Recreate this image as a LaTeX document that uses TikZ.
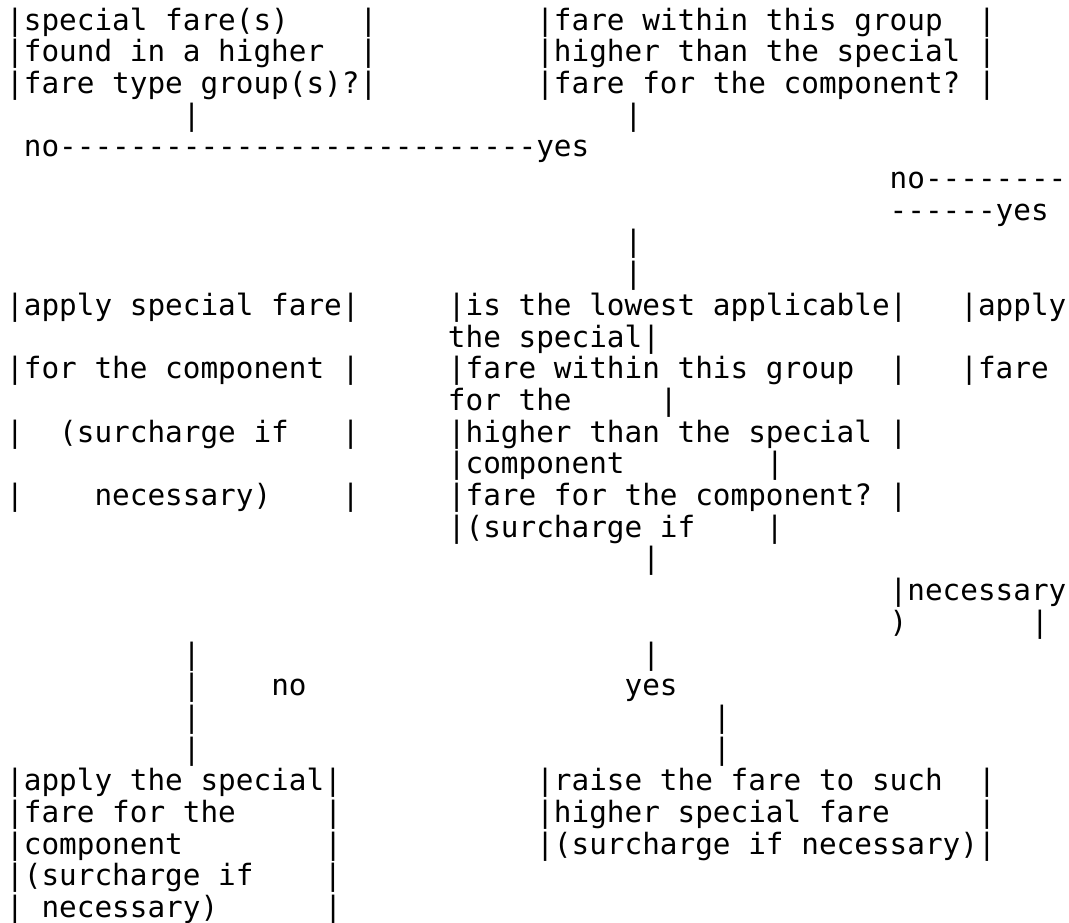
\documentclass[tikz,border=0pt]{standalone}
\usepackage{fontspec}
\setmonofont{DejaVu Sans Mono}
\tikzset{txt/.style={anchor=base west, inner sep=0pt, outer sep=0pt, text=black,
  font=\ttfamily\fontsize{29.35}{31.7}\selectfont}}
\newcommand\seg[4]{\node[txt] (#1) at ({6.2+17.67*#2},{-30-31.7*(#3-1)}) {#4};}
\begin{document}
\begin{tikzpicture}[x=1pt,y=1pt]
\useasboundingbox[fill=white] (0,0) rectangle (1069,-922);
\seg{a1}{0}{1}{|special fare(s)~~~~|}
\seg{b1}{30}{1}{|fare within this group~~|}
\seg{a2}{0}{2}{|found in a higher~~|}
\seg{b2}{30}{2}{|higher than the special~|}
\seg{a3}{0}{3}{|fare type group(s)?|}
\seg{b3}{30}{3}{|fare for the component?~|}
\seg{a4}{10}{4}{|}
\seg{b4}{35}{4}{|}
\seg{a5}{1}{5}{no---------------------------yes}
\seg{c6}{50}{6}{no--------}
\seg{c7}{50}{7}{------yes}
\seg{b8}{35}{8}{|}
\seg{b9}{35}{9}{|}
\seg{a10}{0}{10}{|apply special fare|}
\seg{b10}{25}{10}{|is the lowest applicable|}
\seg{c10}{54}{10}{|apply}
\seg{b11}{25}{11}{the special|}
\seg{a12}{0}{12}{|for the component~|}
\seg{b12}{25}{12}{|fare within this group~~|}
\seg{c12}{54}{12}{|fare}
\seg{b13}{25}{13}{for the~~~~~|}
\seg{a14}{0}{14}{|~~(surcharge if~~~|}
\seg{b14}{25}{14}{|higher than the special~|}
\seg{b15}{25}{15}{|component~~~~~~~~|}
\seg{a16}{0}{16}{|~~~~necessary)~~~~|}
\seg{b16}{25}{16}{|fare for the component?~|}
\seg{b17}{25}{17}{|(surcharge if~~~~|}
\seg{b18}{36}{18}{|}
\seg{c19}{50}{19}{|necessary}
\seg{c20}{50}{20}{)~~~~~~~|}
\seg{a21}{10}{21}{|}
\seg{b21}{36}{21}{|}
\seg{a22}{10}{22}{|}
\seg{n22}{15}{22}{no}
\seg{y22}{35}{22}{yes}
\seg{a23}{10}{23}{|}
\seg{b23}{40}{23}{|}
\seg{a24}{10}{24}{|}
\seg{b24}{40}{24}{|}
\seg{a25}{0}{25}{|apply the special|}
\seg{b25}{30}{25}{|raise the fare to such~~|}
\seg{a26}{0}{26}{|fare for the~~~~~|}
\seg{b26}{30}{26}{|higher special fare~~~~~|}
\seg{a27}{0}{27}{|component~~~~~~~~|}
\seg{b27}{30}{27}{|(surcharge if necessary)|}
\seg{a28}{0}{28}{|(surcharge if~~~~|}
\seg{a29}{0}{29}{|~necessary)~~~~~~|}
\end{tikzpicture}
\end{document}
